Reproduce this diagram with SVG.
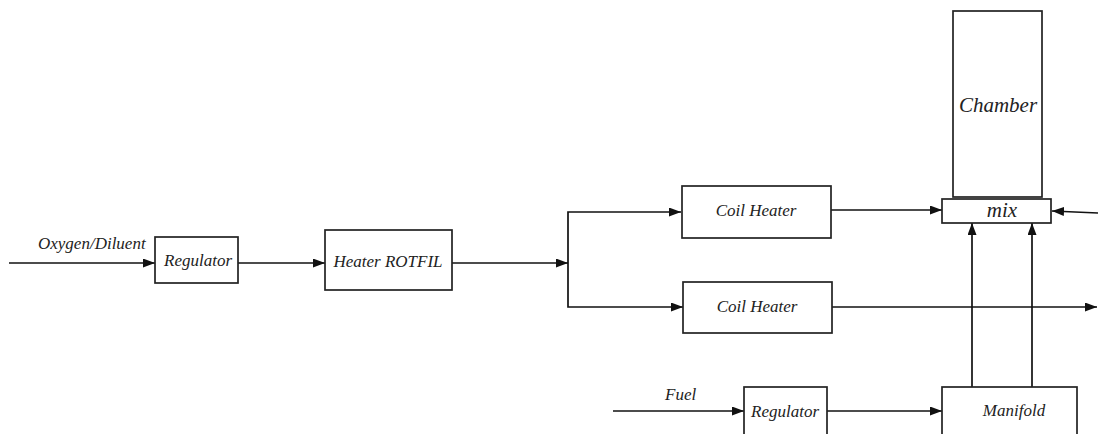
<svg xmlns="http://www.w3.org/2000/svg" width="1098" height="434" viewBox="0 0 1098 434">
  <style>
    .box { fill: #fff; stroke: #222; stroke-width: 1.7; }
    .lbl { font-family: "Liberation Serif", "DejaVu Serif", serif; font-style: italic; font-size: 17px; fill: #222; }
    .mid { text-anchor: middle; }
    .big { font-size: 21px; }
    .wire { fill: none; stroke: #111; stroke-width: 1.7; }
  </style>
  <defs>
    <marker id="arr" viewBox="0 0 12 9" refX="12" refY="4.5" markerWidth="12" markerHeight="9" markerUnits="userSpaceOnUse" orient="auto">
      <path d="M0,0 L12,4.5 L0,9 Z" fill="#111"/>
    </marker>
  </defs>
  <rect width="1098" height="434" fill="#fff"/>

  <g id="connectors">
    <line class="wire" x1="9" y1="263" x2="155" y2="263" marker-end="url(#arr)"/>
    <line class="wire" x1="238" y1="263" x2="325" y2="263" marker-end="url(#arr)"/>
    <line class="wire" x1="452" y1="263" x2="568" y2="263" marker-end="url(#arr)"/>
    <polyline class="wire" points="600,212 568,212 568,307 600,307"/>
    <line class="wire" x1="600" y1="212" x2="681" y2="212" marker-end="url(#arr)"/>
    <line class="wire" x1="600" y1="307" x2="683" y2="307" marker-end="url(#arr)"/>
    <line class="wire" x1="831" y1="210" x2="942" y2="210" marker-end="url(#arr)"/>
    <line class="wire" x1="832" y1="307" x2="1097" y2="307" marker-end="url(#arr)"/>
    <line class="wire" x1="1098" y1="213" x2="1052" y2="211" marker-end="url(#arr)"/>
    <line class="wire" x1="972" y1="387" x2="972" y2="223" marker-end="url(#arr)"/>
    <line class="wire" x1="1032" y1="387" x2="1032" y2="223" marker-end="url(#arr)"/>
    <line class="wire" x1="613" y1="411" x2="744" y2="411" marker-end="url(#arr)"/>
    <line class="wire" x1="827" y1="411" x2="942" y2="411" marker-end="url(#arr)"/>
    <text class="lbl" x="38" y="249">Oxygen/Diluent</text>
    <text class="lbl" x="665" y="400">Fuel</text>
  </g>

  <g id="regulator-ox">
    <rect class="box" x="155" y="237" width="83" height="46"/>
    <text class="lbl mid" x="198" y="266">Regulator</text>
  </g>
  <g id="heater-rotfil">
    <rect class="box" x="325" y="230" width="127" height="60"/>
    <text class="lbl mid" x="388" y="267">Heater ROTFIL</text>
  </g>
  <g id="coil-heater-1">
    <rect class="box" x="682" y="186" width="149" height="52"/>
    <text class="lbl mid" x="756" y="216">Coil Heater</text>
  </g>
  <g id="coil-heater-2">
    <rect class="box" x="683" y="282" width="149" height="51"/>
    <text class="lbl mid" x="757" y="312">Coil Heater</text>
  </g>
  <g id="chamber">
    <rect class="box" x="953" y="11" width="89" height="186"/>
    <text class="lbl mid big" x="998" y="112">Chamber</text>
  </g>
  <g id="mix">
    <rect class="box" x="942" y="199" width="109" height="24"/>
    <text class="lbl mid big" x="1002" y="217">mix</text>
  </g>
  <g id="regulator-fuel">
    <rect class="box" x="744" y="387" width="83" height="52"/>
    <text class="lbl mid" x="785" y="417">Regulator</text>
  </g>
  <g id="manifold">
    <rect class="box" x="942" y="387" width="135" height="52"/>
    <text class="lbl mid" x="1014" y="416">Manifold</text>
  </g>
</svg>
